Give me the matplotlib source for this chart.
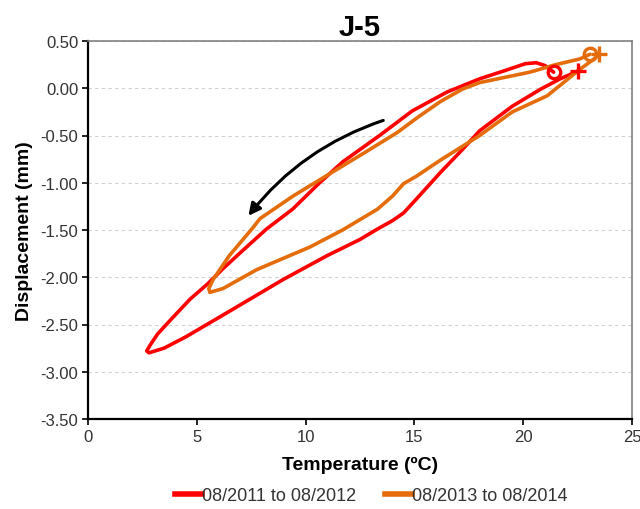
import matplotlib
matplotlib.use("Agg")
import matplotlib.pyplot as plt
from matplotlib.lines import Line2D

plt.rcParams['font.family'] = ['Liberation Sans', 'DejaVu Sans']

title = "J-5"
x_label = "Temperature (ºC)"
y_label = "Displacement (mm)"
series_names = ["08/2011 to 08/2012", "08/2013 to 08/2014"]
series_colors = ["#FF0000", "#E46C0A"]

# 08/2011 to 08/2012 (start = circle, end = plus)
temp_2011 = [21.4, 21.0, 20.6, 20.1, 19.2, 18.0, 16.5, 15.7, 14.9, 13.4, 11.7, 10.6,
             9.4, 8.2, 7.0, 6.2, 5.5, 4.7, 3.8, 3.2, 2.85, 2.7, 2.8, 3.5, 4.5, 6.5,
             9.0, 11.0, 12.5, 13.3, 14.0, 14.5, 15.1, 16.2, 17.2, 18.0, 19.5, 20.8,
             21.7, 22.5]
disp_2011 = [0.17, 0.24, 0.27, 0.26, 0.19, 0.10, -0.04, -0.14, -0.24, -0.50, -0.78, -1.01,
             -1.28, -1.49, -1.74, -1.91, -2.07, -2.23, -2.45, -2.60, -2.72, -2.78, -2.80, -2.75,
             -2.63, -2.36, -2.02, -1.77, -1.60, -1.49, -1.40, -1.32, -1.17, -0.89, -0.65,
             -0.45, -0.19, -0.01, 0.10, 0.18]

# 08/2013 to 08/2014 (start = circle, end = plus)
temp_2013 = [23.07, 22.6, 21.5, 20.3, 18.0, 17.2, 16.2, 15.2, 14.2, 12.65, 11.0, 9.43,
             7.9, 7.6, 6.5, 5.76, 5.55, 5.6, 6.2, 7.75, 10.2, 11.7, 13.3, 14.0, 14.5,
             15.1, 16.2, 18.0, 19.5, 21.1, 21.8, 22.6, 23.2, 23.5]
disp_2013 = [0.36, 0.31, 0.25, 0.17, 0.06, -0.01, -0.14, -0.30, -0.47, -0.69, -0.92, -1.14,
             -1.38, -1.47, -1.77, -2.02, -2.12, -2.16, -2.12, -1.92, -1.68, -1.50, -1.28, -1.14,
             -1.01, -0.93, -0.76, -0.50, -0.25, -0.08, 0.05, 0.20, 0.30, 0.36]

arrow_start = (13.57, -0.34)
arrow_end = (7.37, -1.35)

x_ticks = [0, 5, 10, 15, 20, 25]
y_ticks = [0.5, 0.0, -0.5, -1.0, -1.5, -2.0, -2.5, -3.0, -3.5]

fig = plt.figure(figsize=(6.4, 5.1), dpi=100)
ax = fig.add_axes([88/640, 1-420/510, 544/640, 378/510])

for t, d, c in [(temp_2011, disp_2011, series_colors[0]), (temp_2013, disp_2013, series_colors[1])]:
    ax.plot(t, d, color=c, lw=2.6, solid_joinstyle='round', solid_capstyle='round', zorder=3)
    ax.plot([t[0]], [d[0]], marker='o', ms=9, mfc='none', mec=c, mew=2.4, zorder=4)
    ax.plot([t[-1]], [d[-1]], marker='+', ms=11, mec=c, mew=2.4, zorder=4)

ax.annotate('', xy=arrow_end, xytext=arrow_start,
            arrowprops=dict(arrowstyle='-|>', color='black', lw=2.2,
                            connectionstyle='arc3,rad=0.15', mutation_scale=18,
                            shrinkA=0, shrinkB=0), zorder=5)

ax.set_xlim(0, 25)
ax.set_ylim(-3.5, 0.5)
ax.set_xticks(x_ticks)
ax.set_yticks(y_ticks)
ax.set_yticklabels([f"{v:.2f}" for v in y_ticks])
ax.yaxis.grid(True, color='#D0D0D0', linestyle=(0, (3, 3)), lw=0.8)
ax.set_axisbelow(True)
ax.tick_params(axis='both', direction='out', length=4, width=1.2, labelsize=12,
               labelcolor='#333333', color='black')
ax.tick_params(axis='y', pad=3)
for s in ['left', 'bottom']:
    ax.spines[s].set_color('black')
    ax.spines[s].set_linewidth(1.6)
for s in ['top', 'right']:
    ax.spines[s].set_color('#808080')
    ax.spines[s].set_linewidth(1.2)

ax.set_title(title, fontsize=21, fontweight='bold', pad=3)
ax.set_xlabel(x_label, fontsize=14, fontweight='bold', labelpad=8)
ax.set_ylabel(y_label, fontsize=14, fontweight='bold', labelpad=5)

handles = [Line2D([], [], color=c, lw=4) for c in series_colors]
fig.legend(handles, series_names, loc='center', bbox_to_anchor=(0.58, 1-497/510), ncol=2,
           frameon=False, handlelength=1.5, handletextpad=0.0, columnspacing=1.6,
           fontsize=13, labelcolor='#333333')

fig.savefig('out.png', dpi=100)
